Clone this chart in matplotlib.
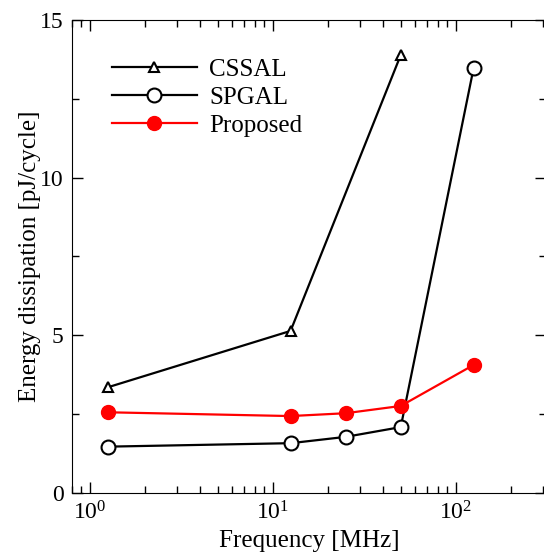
import matplotlib.pyplot as plt

plt.rcParams['font.family'] = ['Liberation Serif', 'DejaVu Serif']
plt.rcParams['mathtext.fontset'] = 'custom'
plt.rcParams['mathtext.rm'] = 'Liberation Serif'

# frequency [MHz]
freq_cssal = [1.25, 12.5, 50]
freq = [1.25, 12.5, 25, 50, 125]

# energy dissipation [pJ/cycle]
cssal = [3.35, 5.14, 13.89]
spgal = [1.47, 1.58, 1.78, 2.09, 13.47]
proposed = [2.56, 2.44, 2.53, 2.76, 4.06]

fig = plt.figure(figsize=(5.44, 5.55), dpi=100)
# right spine sits just past the canvas edge
ax = fig.add_axes([0.132, 0.1117, 0.8717, 0.8523])

ax.plot(freq_cssal, cssal, color='black', lw=1.6, marker='^', ms=7,
        mfc='white', mec='black', mew=1.5, label='CSSAL')
ax.plot(freq, spgal, color='black', lw=1.6, marker='o', ms=10,
        mfc='white', mec='black', mew=1.5, label='SPGAL')
ax.plot(freq, proposed, color='red', lw=1.6, marker='o', ms=10,
        mfc='red', mec='red', label='Proposed')

ax.set_xscale('log')
ax.set_xlim(0.797, 311)
ax.set_ylim(0, 15)
ax.set_yticks([0, 5, 10, 15])
ax.set_yticks([2.5, 7.5, 12.5], minor=True)

ax.tick_params(which='both', direction='in', top=True, right=True,
               labelsize=17)
ax.tick_params(which='major', length=8, width=1)
ax.tick_params(which='minor', length=5, width=1)
ax.tick_params(axis='x', pad=6)
ax.tick_params(axis='y', pad=6)

ax.set_xlabel('Frequency [MHz]', fontsize=18, labelpad=4)
ax.set_ylabel('Energy dissipation [pJ/cycle]', fontsize=18, labelpad=-1)

ax.legend(loc='upper left', frameon=False, fontsize=18, handlelength=3.4,
          handletextpad=0.5, labelspacing=0.22, borderaxespad=0,
          bbox_to_anchor=(0.063, 0.94))

fig.savefig('out.png', dpi=100)
